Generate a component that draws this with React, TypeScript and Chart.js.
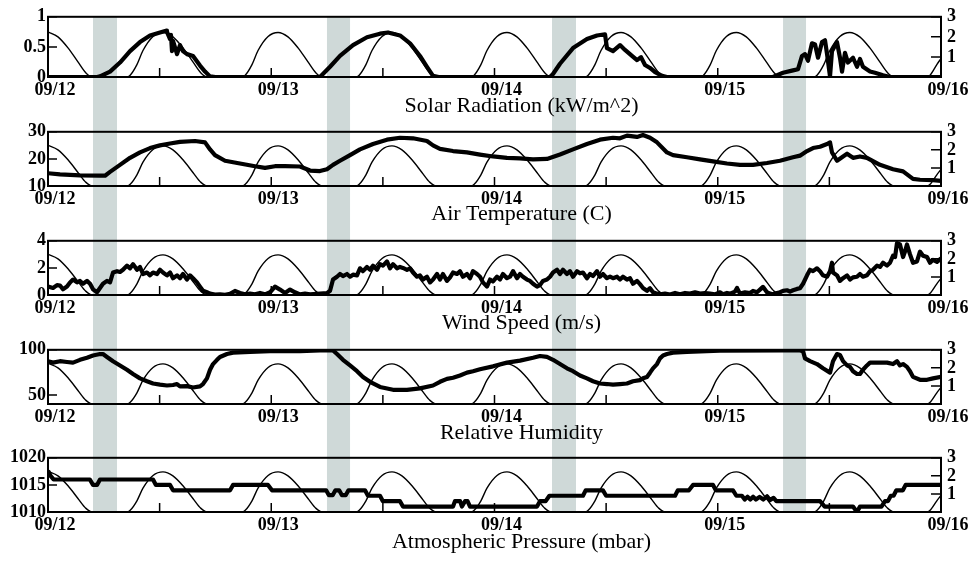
import React, { useEffect, useRef } from 'react';
import { Chart, registerables } from 'chart.js';

Chart.register(...registerables);

// ---------- data (x = hours since 09/12 00:00) ----------
const dateLabels = ['09/12', '09/13', '09/14', '09/15', '09/16'];
const xTickHours = [0, 12, 24, 36, 48, 60, 72, 84, 96];
const tideTicks = [1, 2, 3];

const bandStartHours = [4.84, 29.99, 54.18, 79.02];
const bandEndHours = [7.42, 32.47, 56.76, 81.49];

const tideLevel: [number, number][] = [
  [0, 2.25], [1.07, 2.0], [2.15, 1.45], [3.22, 0.75], [4.08, 0.2], [4.73, 0],
  [8.49, 0], [8.81, 0.08], [9.56, 0.62], [10.21, 1.32], [11.29, 2.02], [12.36, 2.22], [13.43, 2.0], [14.51, 1.45], [15.58, 0.75], [16.44, 0.2], [17.09, 0],
  [20.86, 0], [21.18, 0.08], [21.93, 0.62], [22.58, 1.32], [23.66, 2.02], [24.73, 2.22], [25.8, 2.0], [26.88, 1.45], [27.95, 0.75], [28.81, 0.2], [29.46, 0],
  [33.11, 0], [33.43, 0.08], [34.18, 0.62], [34.83, 1.32], [35.91, 2.02], [36.98, 2.22], [38.05, 2.0], [39.13, 1.45], [40.2, 0.75], [41.06, 0.2], [41.71, 0],
  [45.47, 0], [45.79, 0.08], [46.54, 0.62], [47.19, 1.32], [48.27, 2.02], [49.34, 2.22], [50.41, 2.0], [51.49, 1.45], [52.56, 0.75], [53.42, 0.2], [54.07, 0],
  [57.73, 0], [58.05, 0.08], [58.8, 0.62], [59.45, 1.32], [60.53, 2.02], [61.6, 2.22], [62.67, 2.0], [63.75, 1.45], [64.82, 0.75], [65.68, 0.2], [66.33, 0],
  [70.13, 0], [70.45, 0.08], [71.2, 0.62], [71.85, 1.32], [72.93, 2.02], [74.0, 2.22], [75.07, 2.0], [76.15, 1.45], [77.22, 0.75], [78.08, 0.2], [78.73, 0],
  [82.33, 0], [82.65, 0.08], [83.4, 0.62], [84.05, 1.32], [85.13, 2.02], [86.2, 2.22], [87.27, 2.0], [88.35, 1.45], [89.42, 0.75], [90.28, 0.2], [90.93, 0],
  [94.48, 0], [94.8, 0.08], [95.55, 0.62], [96, 0.92],
];

const solarRadiation: [number, number][] = [
  [0, 0], [5.27, 0], [5.59, 0.01], [6.67, 0.09], [7.74, 0.24], [8.82, 0.43], [9.89, 0.58], [10.97, 0.69], [12.04, 0.74], [12.69, 0.77], [12.79, 0.75],
  [13.12, 0.63], [13.22, 0.7], [13.33, 0.43], [13.44, 0.6], [13.87, 0.38], [14.19, 0.53], [14.51, 0.43], [14.94, 0.38], [15.59, 0.35], [16.34, 0.19],
  [16.88, 0.09], [17.42, 0.01], [18.0, 0],
  [29.03, 0], [29.24, 0], [30.32, 0.17], [31.39, 0.35], [32.79, 0.53], [34.29, 0.66], [35.69, 0.72], [36.55, 0.74], [37.84, 0.69], [38.92, 0.56],
  [39.99, 0.35], [40.74, 0.17], [41.39, 0.02], [42.0, 0],
  [53.97, 0], [54.29, 0.05], [55.04, 0.22], [56.44, 0.48], [57.94, 0.63], [59.02, 0.69], [59.88, 0.71], [60.09, 0.48], [60.74, 0.43], [61.49, 0.53],
  [62.03, 0.45], [62.78, 0.35], [63.32, 0.28], [63.75, 0.33], [64.18, 0.2], [64.72, 0.15], [65.26, 0.08], [66.01, 0.02], [66.54, 0],
  [77.94, 0], [79.02, 0.07], [80.09, 0.11], [80.63, 0.13], [81.06, 0.35], [81.38, 0.38], [81.7, 0.27], [82.13, 0.56], [82.46, 0.54], [82.78, 0.32],
  [83.21, 0.58], [83.53, 0.61], [83.75, 0.38], [84.07, 0.01], [84.28, 0.43], [84.82, 0.58], [85.14, 0.32], [85.36, 0.09], [85.68, 0.4], [86.0, 0.24],
  [86.54, 0.32], [86.97, 0.17], [87.29, 0.3], [87.61, 0.17], [88.37, 0.09], [88.9, 0.07], [89.77, 0.03], [90.52, 0], [96, 0],
];

const airTemperature: [number, number][] = [
  [0, 14.7], [1.29, 14.3], [3.44, 13.9], [5.59, 13.8], [6.13, 13.8], [6.67, 15.2], [7.74, 17.8], [8.82, 20.4], [9.89, 22.4], [10.97, 24.0], [12.04, 25.0],
  [13.12, 25.7], [14.19, 26.3], [15.8, 26.6], [16.88, 26.1], [17.42, 23.5], [17.95, 21.4], [19.03, 19.3], [20.64, 18.3], [22.25, 17.3], [23.33, 16.7],
  [24.4, 17.3], [25.48, 17.3], [27.09, 17.2], [28.17, 15.7], [29.24, 15.5], [29.99, 16.2], [30.64, 17.8], [31.39, 19.3], [32.47, 21.4], [33.54, 23.5],
  [34.94, 25.5], [36.44, 27.1], [37.84, 27.8], [39.24, 27.6], [40.74, 26.6], [41.39, 25.0], [42.14, 23.7], [43.54, 22.9], [45.04, 22.4], [46.44, 21.6],
  [47.84, 20.9], [49.34, 20.4], [50.74, 20.2], [52.14, 19.8], [53.64, 20.0], [55.04, 21.6], [56.44, 23.5], [57.94, 25.5], [59.34, 27.1], [60.74, 27.8],
  [61.49, 27.6], [62.24, 28.6], [63.32, 28.1], [63.96, 28.8], [64.72, 27.8], [65.47, 26.1], [66.54, 22.4], [67.19, 21.4], [68.69, 20.6], [70.09, 19.8],
  [71.49, 19.1], [72.99, 18.3], [74.39, 17.8], [75.79, 17.8], [77.29, 18.5], [78.69, 19.3], [80.09, 20.6], [80.84, 21.2], [81.6, 22.9], [82.24, 24.0],
  [82.99, 24.5], [83.75, 25.5], [84.07, 26.1], [84.28, 22.4], [84.82, 19.3], [85.47, 20.9], [85.9, 21.9], [86.54, 20.4], [87.29, 20.9], [88.04, 20.4],
  [89.44, 17.8], [90.84, 16.2], [91.92, 15.4], [92.99, 12.6], [93.74, 12.3], [95.14, 12.2], [96, 11.9],
];

const windSpeed: [number, number][] = [
  [0, 0.62], [0.54, 0.52], [0.97, 0.73], [1.29, 0.7], [1.61, 0.42], [2.04, 0.62], [2.37, 0.93], [2.69, 1.14], [3.12, 0.93], [3.44, 1.04], [3.76, 0.83],
  [4.19, 1.04], [4.52, 0.83], [4.84, 0.42], [5.27, 0.2], [5.59, 0.52], [5.91, 0.83], [6.34, 1.04], [6.67, 0.93], [6.99, 1.66], [7.42, 1.76], [7.74, 1.7],
  [8.06, 1.86], [8.49, 2.17], [8.82, 1.97], [9.14, 2.28], [9.57, 1.86], [9.89, 2.07], [10.21, 1.55], [10.64, 1.66], [10.97, 1.45], [11.29, 1.66],
  [11.72, 1.55], [12.04, 1.86], [12.36, 1.66], [12.79, 1.45], [13.12, 1.66], [13.44, 1.24], [13.87, 1.45], [14.19, 1.24], [14.51, 1.55], [14.94, 1.14],
  [15.27, 1.45], [15.59, 1.24], [16.02, 0.93], [16.34, 0.62], [16.66, 0.31], [17.09, 0.2], [17.42, 0.1], [17.95, 0.03], [18.49, 0.05], [19.03, 0.02],
  [19.57, 0.08], [20.1, 0.3], [20.64, 0.15], [21.18, 0.05], [21.72, 0.1], [22.25, 0.05], [22.79, 0.15], [23.33, 0.05], [23.87, 0.2], [24.4, 0.62],
  [24.94, 0.4], [25.48, 0.15], [26.02, 0.4], [26.55, 0.2], [27.09, 0.05], [27.63, 0.1], [28.17, 0.05], [29.24, 0.1], [29.99, 0.14], [30.32, 0.31],
  [30.64, 1.14], [31.07, 1.35], [31.39, 1.55], [31.71, 1.4], [32.14, 1.55], [32.47, 1.35], [32.79, 1.5], [33.22, 1.45], [33.54, 1.97], [33.86, 1.76],
  [34.29, 2.07], [34.62, 1.86], [34.94, 2.17], [35.37, 1.86], [35.69, 2.28], [36.01, 2.17], [36.44, 2.48], [36.77, 1.97], [37.09, 2.28], [37.52, 1.97],
  [37.84, 2.07], [38.16, 2.0], [38.59, 1.86], [38.92, 1.97], [39.24, 1.66], [39.67, 1.35], [39.99, 1.45], [40.31, 1.14], [40.74, 1.35], [41.07, 0.93],
  [41.39, 1.14], [41.82, 1.55], [42.14, 1.14], [42.46, 1.55], [42.89, 1.04], [43.22, 1.3], [43.54, 1.66], [43.97, 1.55], [44.29, 1.76], [44.61, 1.35],
  [45.04, 1.55], [45.37, 1.24], [45.69, 1.76], [46.12, 1.55], [46.44, 1.35], [46.76, 0.93], [47.19, 0.62], [47.52, 1.14], [47.84, 1.0], [48.27, 1.35],
  [48.59, 1.14], [48.91, 1.55], [49.34, 1.24], [49.67, 1.35], [49.99, 1.76], [50.42, 1.24], [50.74, 1.55], [51.06, 1.35], [51.49, 1.14], [51.82, 1.04],
  [52.14, 0.83], [52.57, 0.62], [52.89, 0.73], [53.21, 1.04], [53.64, 1.14], [53.97, 1.35], [54.29, 1.66], [54.72, 1.86], [55.04, 1.55], [55.36, 1.86],
  [55.79, 1.55], [56.12, 1.76], [56.44, 1.35], [56.87, 1.76], [57.19, 1.6], [57.51, 1.66], [57.94, 1.24], [58.27, 1.55], [58.59, 1.4], [59.02, 1.76],
  [59.34, 1.35], [59.66, 1.55], [60.09, 1.24], [60.42, 1.35], [60.74, 1.24], [61.17, 1.35], [61.49, 1.14], [61.81, 1.35], [62.24, 1.14], [62.57, 1.24],
  [62.89, 0.83], [63.32, 1.04], [63.64, 0.8], [63.96, 0.52], [64.39, 0.31], [64.72, 0.5], [65.04, 0.2], [65.47, 0.1], [65.79, 0.05], [66.33, 0.1],
  [66.87, 0.03], [67.41, 0.15], [67.94, 0.05], [68.48, 0.15], [69.02, 0.1], [69.56, 0.2], [70.09, 0.1], [70.63, 0.15], [71.17, 0.1], [71.7, 0.05],
  [72.24, 0.2], [72.56, 0.05], [72.99, 0.15], [73.32, 0.1], [73.85, 0.25], [74.07, 0.52], [74.39, 0.1], [74.93, 0.2], [75.47, 0.15], [75.79, 0.3],
  [76.22, 0.2], [76.54, 0.4], [76.86, 0.6], [77.29, 0.2], [77.62, 0.1], [77.94, 0.05], [78.37, 0.15], [78.69, 0.2], [79.02, 0.3], [79.45, 0.35],
  [79.77, 0.25], [80.09, 0.35], [80.52, 0.45], [80.84, 0.5], [81.17, 0.83], [81.6, 1.45], [81.92, 1.86], [82.24, 1.76], [82.67, 1.97], [82.99, 1.76],
  [83.31, 1.45], [83.75, 1.35], [84.07, 1.76], [84.28, 2.38], [84.39, 1.66], [84.82, 1.45], [85.14, 1.04], [85.47, 1.24], [85.9, 1.45], [86.22, 1.14],
  [86.54, 1.3], [86.97, 1.35], [87.29, 1.55], [87.61, 1.35], [88.04, 1.45], [88.37, 1.76], [88.69, 1.86], [89.12, 2.17], [89.44, 2.07], [89.77, 2.38],
  [90.2, 2.17], [90.52, 2.38], [90.84, 2.9], [91.06, 2.8], [91.27, 3.83], [91.59, 3.73], [91.92, 2.8], [92.13, 3.2], [92.34, 3.73], [92.67, 3.0],
  [92.99, 2.38], [93.42, 2.48], [93.74, 3.2], [94.07, 2.9], [94.5, 2.8], [94.82, 2.38], [95.14, 2.6], [95.57, 2.45], [96, 2.7],
];

const relativeHumidity: [number, number][] = [
  [0, 87.4], [0.54, 85.8], [1.29, 87.4], [2.04, 86.5], [2.69, 85.8], [3.44, 88.9], [4.19, 91.2], [4.84, 93.7], [5.59, 95.3], [5.91, 95.3], [6.34, 92.1],
  [6.99, 87.4], [7.74, 82.7], [8.49, 77.9], [9.14, 73.2], [9.89, 68.4], [10.64, 65.2], [11.29, 62.7], [12.04, 61.4], [12.79, 60.5], [13.44, 61.0],
  [13.87, 62.1], [14.19, 59.5], [14.94, 59.8], [15.59, 58.3], [16.34, 59.5], [16.66, 62.1], [17.09, 68.4], [17.42, 77.9], [17.74, 84.2], [18.17, 88.9],
  [18.49, 92.1], [19.24, 95.3], [19.89, 96.9], [21.72, 97.8], [23.87, 98.4], [27.09, 98.4], [29.24, 99.3], [30.64, 99.3], [31.07, 95.3], [31.71, 88.9],
  [32.47, 82.7], [33.22, 76.3], [33.86, 70.0], [34.62, 64.6], [35.69, 58.9], [37.09, 55.7], [38.59, 55.7], [39.99, 57.3], [41.39, 60.5], [42.14, 64.6],
  [42.89, 67.8], [43.54, 69.0], [44.29, 71.5], [45.04, 74.7], [45.69, 76.3], [46.44, 78.5], [47.84, 81.7], [49.34, 85.8], [50.74, 88.0], [52.14, 91.2],
  [52.89, 93.1], [53.64, 92.1], [54.29, 88.9], [55.04, 84.2], [55.79, 79.5], [56.44, 76.3], [57.19, 71.6], [57.94, 68.4], [58.59, 65.2], [59.34, 62.7],
  [60.09, 62.1], [60.74, 61.4], [61.49, 62.1], [62.24, 62.7], [62.89, 65.2], [63.64, 66.5], [63.96, 68.4], [64.39, 70.0], [64.72, 74.7], [65.04, 79.5],
  [65.47, 84.2], [65.79, 90.5], [66.12, 93.7], [66.54, 95.3], [67.19, 96.9], [68.69, 97.8], [72.24, 99.0], [79.02, 99.3], [80.84, 99.3], [81.17, 98.4],
  [81.38, 90.5], [81.92, 87.4], [82.67, 84.2], [83.31, 79.5], [84.07, 74.7], [84.39, 87.4], [84.82, 95.3], [85.14, 94.3], [85.47, 87.4], [85.9, 82.7],
  [86.22, 81.1], [86.54, 76.3], [86.97, 73.2], [87.29, 73.2], [87.61, 77.9], [88.04, 82.7], [88.37, 85.8], [89.12, 85.8], [90.2, 85.8], [90.84, 84.2],
  [91.27, 87.4], [91.59, 82.7], [91.92, 84.2], [92.34, 81.1], [92.67, 76.3], [92.99, 70.0], [93.74, 66.8], [94.5, 66.8], [95.14, 68.4], [96, 70.0],
];

const atmosphericPressure: [number, number][] = [
  [0, 1017.6], [0.3, 1016.6], [0.6, 1016.0], [4.5, 1016.0], [4.84, 1015.0], [5.27, 1015.0], [5.59, 1016.0], [11.29, 1016.0], [11.6, 1015.0],
  [13.12, 1015.0], [13.44, 1014.0], [19.57, 1014.0], [19.89, 1015.0], [23.65, 1015.0], [24.08, 1014.0], [29.9, 1014.0], [30.2, 1013.1],
  [30.6, 1013.1], [30.9, 1014.0], [31.3, 1014.0], [31.6, 1013.1], [32.0, 1013.1], [32.3, 1014.0], [34.08, 1014.0], [34.4, 1013.0], [35.69, 1013.0],
  [36.0, 1012.0], [37.84, 1012.0], [38.16, 1011.0], [43.54, 1011.0], [43.75, 1012.0], [44.3, 1012.0], [44.5, 1011.0], [44.83, 1012.0],
  [45.1, 1012.0], [45.37, 1011.0], [52.57, 1011.0], [52.89, 1012.0], [53.5, 1012.0], [53.9, 1013.0], [57.51, 1013.0], [57.8, 1014.0],
  [59.66, 1014.0], [60.0, 1013.0], [67.41, 1013.0], [67.7, 1014.0], [68.9, 1014.0], [69.34, 1015.0], [71.49, 1015.0], [71.8, 1014.0],
  [73.64, 1014.0], [74.0, 1013.0], [74.6, 1013.0], [74.9, 1012.3], [75.2, 1012.8], [75.5, 1012.3], [75.8, 1012.8], [76.1, 1012.3], [76.5, 1012.8],
  [76.9, 1012.3], [77.3, 1012.9], [77.6, 1012.2], [78.0, 1012.6], [78.3, 1012.0], [83.0, 1012.0], [83.5, 1011.0], [86.54, 1011.0], [86.97, 1010.0],
  [87.29, 1011.0], [89.6, 1011.0], [89.98, 1012.0], [90.3, 1012.0], [90.6, 1013.0], [90.9, 1013.0], [91.2, 1014.0], [91.9, 1014.0], [92.2, 1015.0],
  [96, 1015.0],
];

const solarTicks = [0, 0.5, 1];
const temperatureTicks = [10, 20, 30];
const windTicks = [0, 2, 4];
const humidityTicks = [50, 100];
const pressureTicks = [1010, 1015, 1020];

const panelTitles = [
  'Solar Radiation (kW/m^2)',
  'Air Temperature (C)',
  'Wind Speed (m/s)',
  'Relative Humidity',
  'Atmospheric Pressure (mbar)',
];

const panels = [
  { title: panelTitles[0], series: solarRadiation, min: 0, max: 1, ticks: solarTicks },
  { title: panelTitles[1], series: airTemperature, min: 10, max: 30, ticks: temperatureTicks },
  { title: panelTitles[2], series: windSpeed, min: 0, max: 4, ticks: windTicks },
  { title: panelTitles[3], series: relativeHumidity, min: 40, max: 100, ticks: humidityTicks },
  { title: panelTitles[4], series: atmosphericPressure, min: 1010, max: 1020, ticks: pressureTicks },
];

// ---------- layout / style ----------
const FONT_FAMILY = "'Liberation Serif', 'Times New Roman', Times, serif";
const BAND_COLOR = '#cfd9d8';
const canvasTops = [0, 115, 224, 333, 441];
const canvasHeights = [119, 114, 114, 113, 122];
const plotTops = [13, 7, 7, 7, 7];
const PLOT_H = 64;
const LEFT_W = 48;
const RIGHT_W = 36;
const TITLE_BASELINE = [35, 34, 34, 35, 36];
const TITLE_SHIFT = 27;

const panelDecor = {
  id: 'panelDecor',
  beforeDraw(chart: any, _args: any, opts: any) {
    const { ctx, chartArea, scales } = chart;
    const xs = scales.x;
    const y0 = opts.fromArea ? chartArea.top : opts.from;
    const y1 = opts.toArea ? chartArea.bottom : chart.height;
    ctx.save();
    ctx.fillStyle = BAND_COLOR;
    bandStartHours.forEach((h, k) => {
      const a = xs.getPixelForValue(h);
      const b = xs.getPixelForValue(bandEndHours[k]);
      ctx.fillRect(a, y0, b - a, y1 - y0);
    });
    ctx.restore();
  },
  afterDraw(chart: any, _args: any, opts: any) {
    const { ctx, chartArea, scales } = chart;
    const { left, right, top, bottom } = chartArea;
    ctx.save();
    ctx.strokeStyle = '#000';
    ctx.lineWidth = 1.5;
    ctx.beginPath();
    scales.x.ticks.forEach((t: any) => {
      if (t.value > scales.x.min && t.value < scales.x.max) {
        const px = scales.x.getPixelForValue(t.value);
        ctx.moveTo(px, bottom);
        ctx.lineTo(px, bottom - 9);
      }
    });
    scales.y.ticks.forEach((t: any) => {
      const py = scales.y.getPixelForValue(t.value);
      ctx.moveTo(left, py);
      ctx.lineTo(left + 9, py);
    });
    scales.y2.ticks.forEach((t: any) => {
      const py = scales.y2.getPixelForValue(t.value);
      ctx.moveTo(right, py);
      ctx.lineTo(right - 10, py);
    });
    ctx.stroke();
    ctx.lineWidth = 2;
    ctx.strokeRect(left, top, right - left, bottom - top);
    // axis title (real canvas text), centred like the reference
    ctx.fillStyle = '#000';
    ctx.font = `22px ${FONT_FAMILY}`;
    ctx.textAlign = 'center';
    ctx.textBaseline = 'alphabetic';
    ctx.fillText(opts.title, (left + right) / 2 + TITLE_SHIFT, bottom + opts.titleBaseline);
    ctx.restore();
  },
};

function Panel({ index }: { index: number }) {
  const ref = useRef<HTMLCanvasElement>(null);
  useEffect(() => {
    const p = panels[index];
    const H = canvasHeights[index];
    const top = plotTops[index];
    const xH = H - top - PLOT_H;
    const overlapAbove =
      index === 0 ? 0 : canvasTops[index - 1] + canvasHeights[index - 1] - canvasTops[index];
    const tickFont = { family: FONT_FAMILY, size: 18, weight: 'bold' };
    const chart = new Chart(ref.current as HTMLCanvasElement, {
      type: 'line',
      data: {
        datasets: [
          {
            data: tideLevel.map(([x, y]) => ({ x, y })),
            yAxisID: 'y2',
            borderColor: '#000',
            borderWidth: 1.4,
            pointRadius: 0,
            cubicInterpolationMode: 'monotone',
            fill: false,
          },
          {
            data: p.series.map(([x, y]) => ({ x, y })),
            yAxisID: 'y',
            borderColor: '#000',
            borderWidth: 4.2,
            pointRadius: 0,
            tension: 0,
            borderJoinStyle: 'round',
            fill: false,
          },
        ],
      } as any,
      options: {
        responsive: false,
        animation: false,
        events: [],
        layout: { padding: { top, left: 0, right: 0, bottom: 0 } },
        plugins: {
          legend: { display: false },
          tooltip: { enabled: false },
          panelDecor: {
            fromArea: index === 0,
            from: overlapAbove,
            toArea: index === panels.length - 1,
            title: p.title,
            titleBaseline: TITLE_BASELINE[index],
          },
        } as any,
        scales: {
          x: {
            type: 'linear',
            position: 'bottom',
            min: 0,
            max: 96,
            grid: { display: false, drawTicks: false },
            border: { display: false },
            afterBuildTicks: (s: any) => {
              s.ticks = xTickHours.map((v) => ({ value: v }));
            },
            ticks: {
              autoSkip: false,
              maxRotation: 0,
              minRotation: 0,
              padding: 3,
              labelOffset: 7,
              color: '#000',
              font: tickFont,
              callback: (v: any) => (Number(v) % 24 === 0 ? dateLabels[Number(v) / 24] : ''),
            },
            title: { display: false },
            afterFit: (s: any) => {
              s.height = xH;
            },
          },
          y: {
            type: 'linear',
            position: 'left',
            min: p.min,
            max: p.max,
            grid: { display: false, drawTicks: false },
            border: { display: false },
            afterBuildTicks: (s: any) => {
              s.ticks = p.ticks.map((v) => ({ value: v }));
            },
            ticks: { padding: 2, color: '#000', font: tickFont, callback: (v: any) => String(v) },
            afterFit: (s: any) => {
              s.width = LEFT_W;
            },
          },
          y2: {
            type: 'linear',
            position: 'right',
            min: 0,
            max: 3,
            grid: { display: false, drawTicks: false },
            border: { display: false },
            afterBuildTicks: (s: any) => {
              s.ticks = tideTicks.map((v) => ({ value: v }));
            },
            ticks: { padding: 6, color: '#000', font: tickFont, callback: (v: any) => String(v) },
            afterFit: (s: any) => {
              s.width = RIGHT_W;
            },
          },
        },
      } as any,
      plugins: [panelDecor],
    });
    return () => chart.destroy();
  }, [index]);
  return (
    <canvas
      ref={ref}
      width={977}
      height={canvasHeights[index]}
      style={{ position: 'absolute', left: 0, top: canvasTops[index], display: 'block' }}
    />
  );
}

export default function App() {
  return (
    <div style={{ position: 'absolute', left: 0, top: 0, width: 977, height: 563, background: '#fff' }}>
      {panels.map((_, i) => (
        <Panel key={i} index={i} />
      ))}
    </div>
  );
}
